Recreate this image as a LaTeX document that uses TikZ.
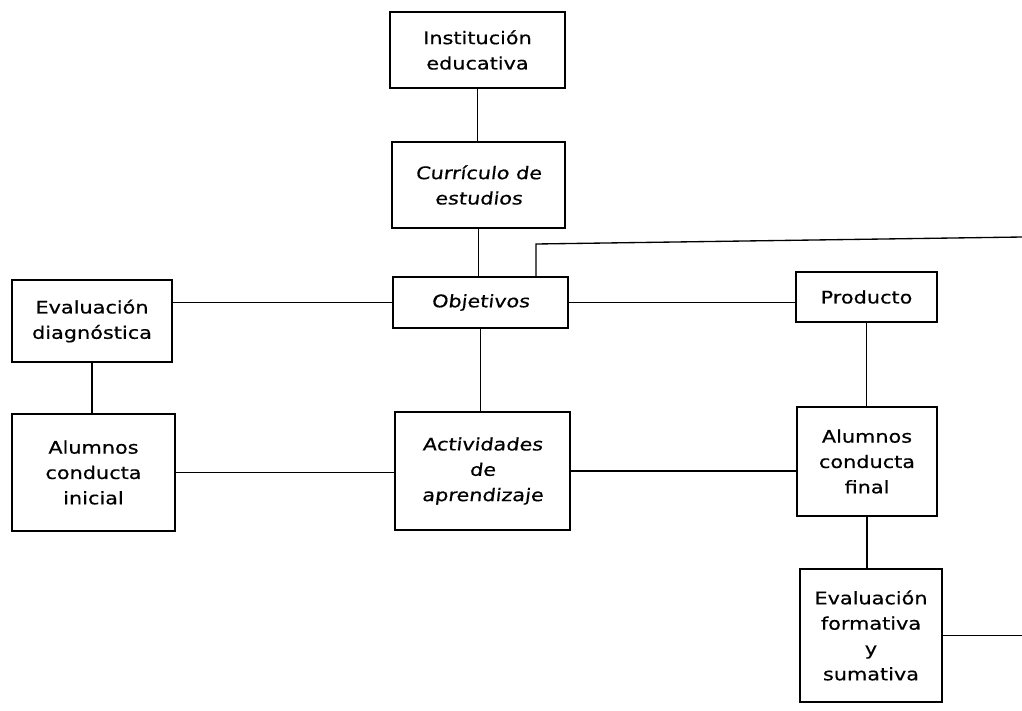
\documentclass[tikz,border=0pt]{standalone}
\usepackage{fontspec}
\setmainfont[FakeStretch=1.2,FakeBold=0.5]{DejaVu Sans}
\newfontfamily\slfont[FakeStretch=1.2,FakeSlant=0.12,FakeBold=0.5]{DejaVu Sans}
\begin{document}
\begin{tikzpicture}[x=0.75pt,y=-0.75pt,
  box/.style={draw=black,line width=1pt,inner sep=0pt,align=center,
    font=\fontsize{13}{19}\selectfont},
  link/.style={draw=black,line width=1pt}]
\useasboundingbox (0,0) rectangle (1022,711);
\fill[white] (0,0) rectangle (1022,711);
\node[box,minimum width=131.25pt,minimum height=57pt] (inst) at (477.5,50) {Institución\\educativa};
\node[box,minimum width=129.75pt,minimum height=64.5pt,font=\slfont\fontsize{13}{19}\selectfont] (curr) at (478.5,185) {Currículo de\\estudios};
\node[box,minimum width=131.25pt,minimum height=38.25pt,font=\slfont\fontsize{13}{19}\selectfont] (obj) at (480.5,302.5) {Objetivos};
\node[box,minimum width=120pt,minimum height=61.5pt] (diag) at (92,321) {Evaluación\\diagnóstica};
\node[box,minimum width=122.25pt,minimum height=87.75pt] (ini) at (93.5,472.5) {Alumnos\\conducta\\inicial};
\node[box,minimum width=131.25pt,minimum height=88.5pt,font=\slfont\fontsize{13}{19}\selectfont] (act) at (482.5,471) {Actividades\\de\\aprendizaje};
\node[box,minimum width=105.75pt,minimum height=37.5pt] (prod) at (866.5,297) {Producto};
\node[box,minimum width=105pt,minimum height=81.75pt] (fin) at (867,461.5) {Alumnos\\conducta\\final};
\node[box,minimum width=106.5pt,minimum height=99.75pt] (form) at (871,635.5) {Evaluación\\formativa\\y\\sumativa};
\coordinate (loopA) at (536,244);
\coordinate (loopB) at (1022,237);
\coordinate (formEnd) at (1022,635.5);
\draw[link] (inst.south) -- (inst.south |- curr.north);
\draw[link] (curr.south) -- (curr.south |- obj.north);
\draw[link] (obj.south) -- (obj.south |- act.north);
\draw[link] (obj.west) -- (obj.west -| diag.east);
\draw[link] (obj.east) -- (obj.east -| prod.west);
\draw[link] (diag.south) -- (diag.south |- ini.north);
\draw[link] (ini.east) -- (ini.east -| act.west);
\draw[link] (act.east) -- (act.east -| fin.west);
\draw[link] (prod.south) -- (prod.south |- fin.north);
\draw[link] (fin.south) -- (fin.south |- form.north);
\draw[link] (obj.north -| loopA) -- (loopA) -- (loopB);
\draw[link] (form.east) -- (formEnd);
\end{tikzpicture}
\end{document}
